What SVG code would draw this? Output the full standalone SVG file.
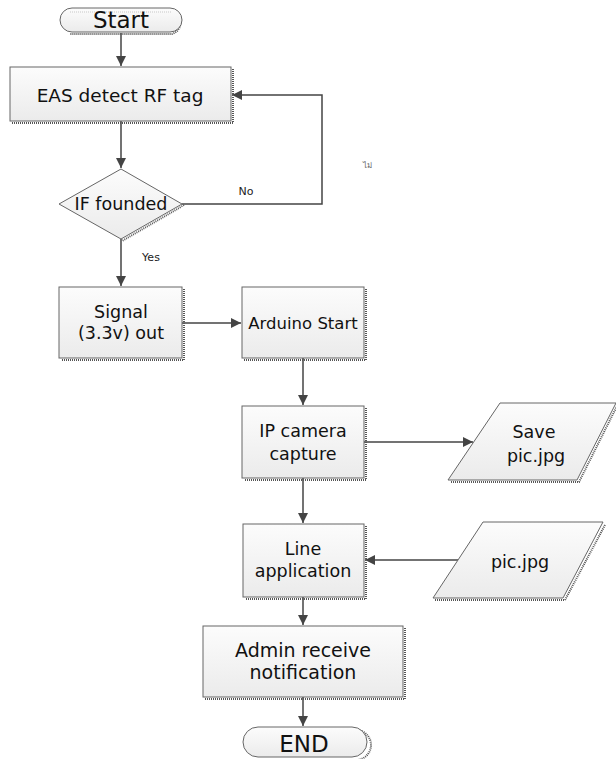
<svg xmlns="http://www.w3.org/2000/svg" width="616" height="759" viewBox="0 0 616 759">
<defs>
<linearGradient id="g" x1="0" y1="0" x2="0" y2="1">
<stop offset="0" stop-color="#fcfcfc"/>
<stop offset="1" stop-color="#ebebeb"/>
</linearGradient>
<marker id="ah" viewBox="0 0 10 10" refX="10" refY="5" markerWidth="10" markerHeight="10" markerUnits="userSpaceOnUse" orient="auto">
<path d="M0,0 L10,5 L0,10 z" fill="#444"/>
</marker>
</defs>
<style>
.sh{fill:none;stroke:#555;stroke-width:2;stroke-dasharray:1 1}
.bx{fill:url(#g);stroke:#666;stroke-width:1}
.t{font-family:"DejaVu Sans",Verdana,sans-serif;fill:#111;text-anchor:middle}
.c{fill:none;stroke:#444;stroke-width:1.5}
.s{font-family:"DejaVu Sans",Verdana,sans-serif;fill:#222;text-anchor:middle;font-size:11px}
</style>
<rect width="616" height="759" fill="#fff"/>
<g id="connectors">
<path class="c" d="M121,33 V66" marker-end="url(#ah)"/>
<path class="c" d="M121,121 V168" marker-end="url(#ah)"/>
<path class="c" d="M182,204 H322 V95 H232" marker-end="url(#ah)"/>
<path class="c" d="M121,239 V286" marker-end="url(#ah)"/>
<path class="c" d="M182,323 H241" marker-end="url(#ah)"/>
<path class="c" d="M303,358 V405" marker-end="url(#ah)"/>
<path class="c" d="M364,442 H473" marker-end="url(#ah)"/>
<path class="c" d="M303,478 V523" marker-end="url(#ah)"/>
<path class="c" d="M458,560 H365" marker-end="url(#ah)"/>
<path class="c" d="M303,597 V625" marker-end="url(#ah)"/>
<path class="c" d="M303,697 V726" marker-end="url(#ah)"/>
<text class="s" x="246" y="195">No</text>
<text class="s" x="151" y="261" font-size="10">Yes</text>
<text class="s" x="367" y="168" style="font-size:8px;fill:#666">ไม่</text>
</g>
<g id="start">
<path class="sh" d="M172,11 A12,12 0 0 1 172,34 H70"/>
<rect class="bx" x="60" y="8" width="122" height="24" rx="12"/>
<line x1="70" y1="12" x2="172" y2="12" stroke="#bbb" stroke-width="0.8" stroke-dasharray="1 1"/>
<text class="t" x="121" y="28" font-size="23">Start</text>
</g>
<g id="eas">
<path class="sh" d="M233,69 V123 H12"/>
<rect class="bx" x="10" y="67" width="221" height="54"/>
<text class="t" x="120" y="102" font-size="18.5">EAS detect RF tag</text>
</g>
<g id="decision">
<path class="sh" d="M184,205 L122,241"/>
<polygon class="bx" points="121,169 182,204 121,239 59,204"/>
<text class="t" x="121" y="210" font-size="17.5">IF founded</text>
</g>
<g id="signal">
<path class="sh" d="M184,289 V360 H61"/>
<rect class="bx" x="59" y="287" width="123" height="71"/>
<text class="t" x="121" y="318" font-size="17.5">Signal</text>
<text class="t" x="121" y="339" font-size="17.5">(3.3v) out</text>
</g>
<g id="arduino">
<path class="sh" d="M366,289 V360 H244"/>
<rect class="bx" x="242" y="287" width="122" height="71"/>
<text class="t" x="303" y="329" font-size="16.5">Arduino Start</text>
</g>
<g id="camera">
<path class="sh" d="M366,408 V480 H244"/>
<rect class="bx" x="242" y="406" width="122" height="72"/>
<text class="t" x="303" y="437" font-size="17.5">IP camera</text>
<text class="t" x="303" y="460" font-size="17.5">capture</text>
</g>
<g id="save">
<path class="sh" d="M617,406 L579,482 H450"/>
<polygon class="bx" points="500,403 616,403 577,480 448,480"/>
<text class="t" x="534" y="438" font-size="17.5">Save</text>
<text class="t" x="536" y="462" font-size="17.5">pic.jpg</text>
</g>
<g id="line">
<path class="sh" d="M366,526 V599 H245"/>
<rect class="bx" x="243" y="524" width="121" height="73"/>
<text class="t" x="303" y="555" font-size="17.5">Line</text>
<text class="t" x="303" y="577" font-size="17.5">application</text>
</g>
<g id="pic">
<path class="sh" d="M605,525 L565,600 H435"/>
<polygon class="bx" points="483,522 603,522 563,598 433,598"/>
<text class="t" x="520" y="568" font-size="17.5">pic.jpg</text>
</g>
<g id="admin">
<path class="sh" d="M405,628 V699 H205"/>
<rect class="bx" x="203" y="626" width="200" height="71"/>
<text class="t" x="303" y="657" font-size="19">Admin receive</text>
<text class="t" x="303" y="679" font-size="19">notification</text>
</g>
<g id="end">
<path class="sh" d="M356,730 A15,15 0 0 1 356,760 H255"/>
<rect class="bx" x="243" y="727" width="124" height="30" rx="15"/>
<text class="t" x="304" y="752" font-size="23">END</text>
</g>
</svg>
